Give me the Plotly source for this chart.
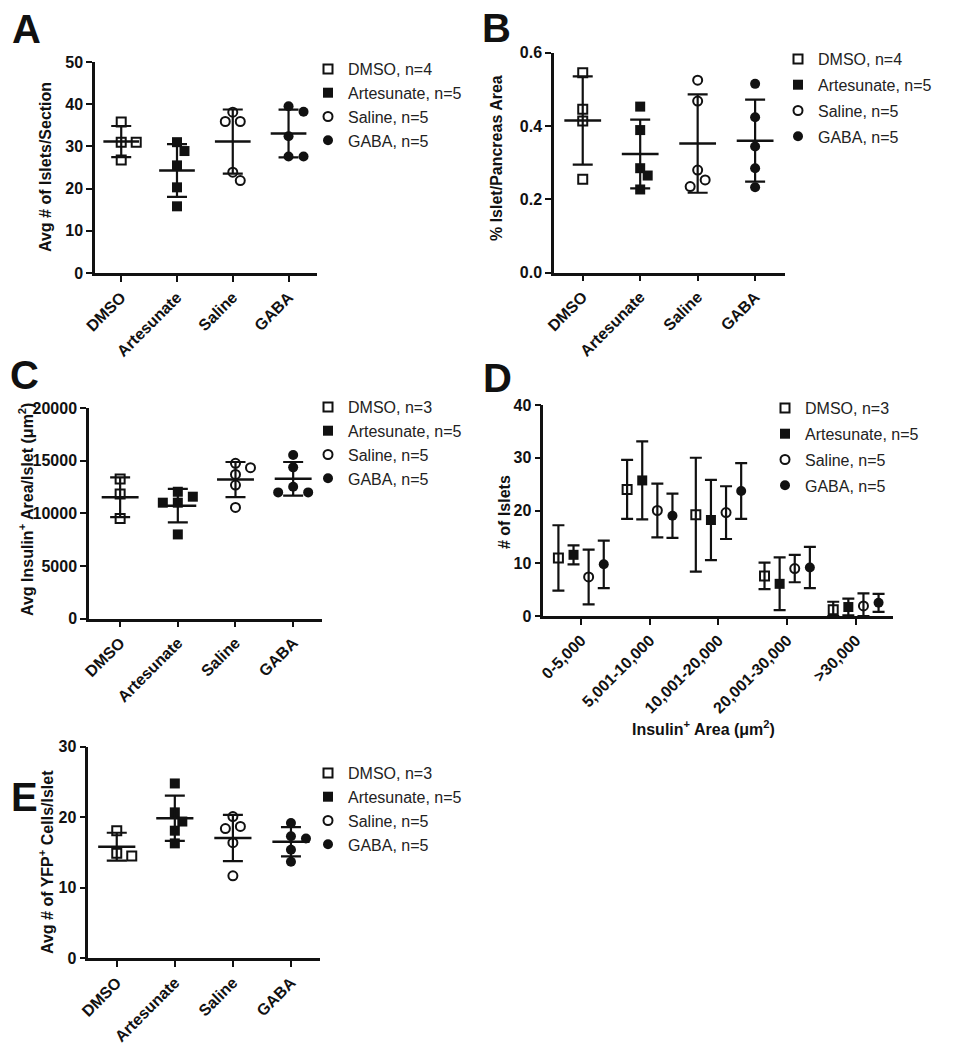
import math
import numpy as np
import plotly.graph_objects as go

# ---------------- DATA ----------------
groups = ["DMSO", "Artesunate", "Saline", "GABA"]

a_dmso = [35.8, 31.0, 31.0, 26.8]
a_art = [31.0, 28.9, 25.5, 20.3, 15.8]
a_sal = [38.1, 35.9, 35.9, 23.9, 21.9]
a_gaba = [39.5, 38.2, 32.4, 27.6, 27.6]

b_dmso = [0.545, 0.446, 0.414, 0.255]
b_art = [0.453, 0.389, 0.285, 0.265, 0.227]
b_sal = [0.525, 0.468, 0.280, 0.253, 0.235]
b_gaba = [0.515, 0.424, 0.344, 0.285, 0.233]

c_dmso = [13270, 11840, 9520]
c_art = [12060, 11590, 11020, 11020, 8000]
c_sal = [14760, 14350, 13710, 12700, 10570]
c_gaba = [15550, 14380, 12530, 12000, 12000]

d_bins = ["0-5,000", "5,001-10,000", "10,001-20,000", "20,001-30,000", ">30,000"]
d_n = [3, 5, 5, 5]
d_mean_dmso = [11.0, 24.0, 19.2, 7.6, 1.2]
d_sd_dmso = [6.2, 5.6, 10.8, 2.5, 1.5]
d_mean_art = [11.6, 25.7, 18.2, 6.1, 1.7]
d_sd_art = [1.8, 7.4, 7.6, 5.0, 1.6]
d_mean_sal = [7.4, 20.0, 19.6, 9.0, 1.9]
d_sd_sal = [5.2, 5.1, 5.0, 2.6, 2.4]
d_mean_gaba = [9.8, 19.0, 23.7, 9.2, 2.5]
d_sd_gaba = [4.5, 4.2, 5.3, 3.9, 1.7]

e_dmso = [18.1, 14.9, 14.5]
e_art = [24.8, 20.7, 19.4, 18.1, 16.3]
e_sal = [20.1, 18.7, 18.4, 16.4, 11.7]
e_gaba = [19.2, 17.3, 17.0, 15.4, 13.7]

# ---------------- STYLE / LAYOUT ----------------
W, H = 956, 1050
FONT = "Liberation Sans, Arial, sans-serif"
INK = "#111111"
symbols = ["square-open", "square", "circle-open", "circle"]
msize = [9, 10, 9, 10]
mline = [2, 0, 2, 0]
d_offsets = [-0.33, -0.11, 0.11, 0.33]


def fx(x):
    return x / W


def fy(y):
    return 1 - y / H


# panel geometry in page pixels: x0, x1, ytop, ybottom
panels = {
    "A": dict(px=(95, 317, 62, 273), xr=(-0.47, 3.51), yr=(0, 50), dt=10, fmt="d"),
    "B": dict(px=(554, 785, 52.7, 272.7), xr=(-0.5, 3.52), yr=(0, 0.6), dt=0.2, fmt=".1f"),
    "C": dict(px=(89, 322, 408.3, 618.5), xr=(-0.54, 3.5), yr=(0, 20000), dt=5000, fmt="d"),
    "D": dict(px=(543.3, 893, 405, 616), xr=(-0.55, 4.54), yr=(0, 40), dt=10, fmt="d"),
    "E": dict(px=(88.3, 320, 746.8, 958.3), xr=(-0.49, 3.5), yr=(0, 30), dt=10, fmt="d"),
}
order = ["A", "B", "C", "D", "E"]


def swarm(values, ppu_x, ppu_y, diam=10.0, step=7.5):
    idx = sorted(range(len(values)), key=lambda i: -values[i])
    placed = []
    offs = [0.0] * len(values)
    cands = [0, step, -step, 2 * step, -2 * step, 3 * step, -3 * step]
    for i in idx:
        ypx = values[i] * ppu_y
        chosen = cands[-1]
        for c in cands:
            if all(math.hypot(c - px, ypx - py) >= diam for px, py in placed):
                chosen = c
                break
        placed.append((chosen, ypx))
        offs[i] = chosen / ppu_x
    return offs


fig = go.Figure()
layout = dict(width=W, height=H, margin=dict(l=0, r=0, t=0, b=0, autoexpand=False),
              paper_bgcolor="white", plot_bgcolor="white", autosize=False,
              showlegend=True)

tickfont = dict(family=FONT, size=16, color=INK, weight="bold")

for k, name in enumerate(order):
    p = panels[name]
    x0, x1, yt, yb = p["px"]
    sfx = "" if k == 0 else str(k + 1)
    xa, ya = "xaxis" + sfx, "yaxis" + sfx
    ticks_y = list(np.arange(p["yr"][0], p["yr"][1] + p["dt"] / 2, p["dt"]))
    if name == "D":
        tv, tt = list(range(len(d_bins))), d_bins
    else:
        tv, tt = list(range(len(groups))), groups
    layout[xa] = dict(domain=[fx(x0), fx(x1)], range=list(p["xr"]), anchor="y" + sfx,
                      showline=True, linewidth=2.5, linecolor=INK, ticks="outside",
                      ticklen=6, tickwidth=2.2, tickcolor=INK, showgrid=False,
                      zeroline=False, tickvals=tv, ticktext=tt, tickangle=-45,
                      tickfont=tickfont, fixedrange=True, automargin=False)
    layout[ya] = dict(domain=[fy(yb), fy(yt)], range=list(p["yr"]), anchor="x" + sfx,
                      showline=True, linewidth=2.5, linecolor=INK, ticks="outside",
                      ticklen=6, tickwidth=2.2, tickcolor=INK, showgrid=False,
                      zeroline=False, tickvals=ticks_y, tickformat=p["fmt"],
                      tickfont=tickfont, fixedrange=True, automargin=False)

scatter_sets = {
    "A": [a_dmso, a_art, a_sal, a_gaba],
    "B": [b_dmso, b_art, b_sal, b_gaba],
    "C": [c_dmso, c_art, c_sal, c_gaba],
    "E": [e_dmso, e_art, e_sal, e_gaba],
}

# legend: (text-left x px, top px, gap between entries)
legend_pos = {
    "A": (348, 52, 0), "B": (818, 42, 2), "C": (348, 390, 0), "D": (805, 391, 2), "E": (348, 756, 0),
}

for k, name in enumerate(order):
    p = panels[name]
    x0, x1, yt, yb = p["px"]
    sfx = "" if k == 0 else str(k + 1)
    xr, yr = p["xr"], p["yr"]
    ppu_x = (x1 - x0) / (xr[1] - xr[0])
    ppu_y = (yb - yt) / (yr[1] - yr[0])
    lg = "legend" if k == 0 else "legend" + str(k + 1)
    if name != "D":
        sets = scatter_sets[name]
        mx, my = [], []
        for g, vals in enumerate(sets):
            offs = swarm(vals, ppu_x, ppu_y)
            m = float(np.mean(vals))
            sd = float(np.std(vals, ddof=1))
            fig.add_trace(go.Scatter(
                x=[g + o for o in offs], y=vals, mode="markers",
                name=f"{groups[g]}, n={len(vals)}", legend=lg, legendgroup=f"{name}{g}",
                marker=dict(symbol=symbols[g], size=msize[g], color=INK,
                            line=dict(width=mline[g], color=INK)),
                xaxis="x" + sfx, yaxis="y" + sfx, cliponaxis=False, showlegend=True))
            fig.add_trace(go.Scatter(
                x=[g], y=[m], mode="markers", marker=dict(size=0.1, color="rgba(0,0,0,0)"),
                error_y=dict(type="data", array=[sd], width=10, thickness=2.2, color=INK),
                xaxis="x" + sfx, yaxis="y" + sfx, showlegend=False, cliponaxis=False,
                hoverinfo="skip"))
            mx += [g - 0.32, g + 0.32, None]
            my += [m, m, None]
        fig.add_trace(go.Scatter(x=mx, y=my, mode="lines", line=dict(color=INK, width=2.5),
                                 xaxis="x" + sfx, yaxis="y" + sfx, showlegend=False,
                                 cliponaxis=False, hoverinfo="skip"))
    else:
        dm = [d_mean_dmso, d_mean_art, d_mean_sal, d_mean_gaba]
        ds = [d_sd_dmso, d_sd_art, d_sd_sal, d_sd_gaba]
        for g in range(4):
            xs = [i + d_offsets[g] for i in range(len(d_bins))]
            fig.add_trace(go.Scatter(
                x=xs, y=dm[g], mode="markers", name=f"{groups[g]}, n={d_n[g]}", legend=lg,
                legendgroup=f"{name}{g}",
                marker=dict(symbol=symbols[g], size=msize[g], color=INK,
                            line=dict(width=mline[g], color=INK)),
                error_y=dict(type="data", array=ds[g],
                             arrayminus=[min(s, mv) for s, mv in zip(ds[g], dm[g])],
                             width=6, thickness=2.2, color=INK),
                xaxis="x" + sfx, yaxis="y" + sfx, cliponaxis=False, showlegend=True))
    tx, ty, gap = legend_pos[name]
    layout[lg] = dict(x=fx(tx - 40), y=fy(ty), xanchor="left", yanchor="top",
                      bgcolor="rgba(0,0,0,0)", borderwidth=0,
                      font=dict(family=FONT, size=16, color="#222222"),
                      itemsizing="trace", tracegroupgap=gap)

annotations = []
letters = {"A": (26, 29), "B": (496, 28), "C": (24, 375), "D": (497, 378), "E": (24, 797)}
for L, (x, y) in letters.items():
    annotations.append(dict(text=L, x=fx(x), y=fy(y), xref="paper", yref="paper",
                            showarrow=False, xanchor="center", yanchor="middle",
                            font=dict(family=FONT, size=40, color=INK, weight="bold")))

ytitles = [
    ("Avg # of Islets/Section", 45, 167),
    ("% Islet/Pancreas Area", 497, 158),
    ("Avg Insulin<sup>+</sup> Area/Islet (\u03bcm<sup>2</sup>)", 26, 510),
    ("# of Islets", 504, 512),
    ("Avg # of YFP<sup>+</sup> Cells/Islet", 46, 862),
]
for t, x, y in ytitles:
    annotations.append(dict(text=t, x=fx(x), y=fy(y), xref="paper", yref="paper",
                            showarrow=False, textangle=-90, xanchor="center", yanchor="middle",
                            font=dict(family=FONT, size=16, color=INK, weight="bold")))
annotations.append(dict(text="Insulin<sup>+</sup> Area (\u03bcm<sup>2</sup>)", x=fx(703), y=fy(728),
                        xref="paper", yref="paper", showarrow=False, xanchor="center",
                        yanchor="middle",
                        font=dict(family=FONT, size=16, color=INK, weight="bold")))
layout["annotations"] = annotations

fig.update_layout(**layout)
fig.write_html("out.html", config={"displayModeBar": False},
               post_script="document.body.style.margin='0';document.body.style.overflow='hidden';")
